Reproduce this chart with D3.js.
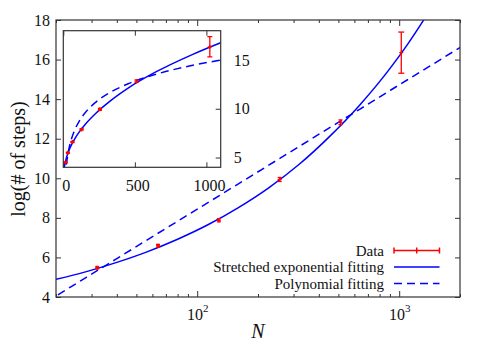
<!DOCTYPE html>
<html>
<head>
<meta charset="utf-8">
<script src="https://cdn.jsdelivr.net/npm/d3@7"></script>
<style>
    body { margin: 0; background: #fff; }
    svg { display: block; font-family: "Liberation Serif", "Times New Roman", serif; }
    svg text { font-family: "Liberation Serif", "Times New Roman", serif; }
</style>
</head>
<body>
<div id="chart"></div>
<script>
// Layout
const WIDTH = 491;
const HEIGHT = 343;
const MAIN = { left: 56, right: 460, top: 20, bottom: 297 };
const INSET = { left: 63.3, right: 220.7, top: 30.7, bottom: 167.3 };

const RED = "#ff0000";
const BLUE = "#0000ff";
const FRAME = "#333";

// Data
const dataN = [16, 32, 64, 128, 256, 512, 1024];
const dataY = [4.5, 5.48, 6.59, 7.88, 9.94, 12.83, 16.35];
const dataErr = [0.05, 0.06, 0.07, 0.08, 0.1, 0.12, 1.04];

// Fitted curves
const fitN = [5, 8, 10, 14, 20, 28, 40, 56, 80, 113, 160, 226, 320, 453, 640, 905, 1100, 1280, 1450, 2000];
const stretchedY = [3.80, 4.10, 4.26, 4.54, 4.89, 5.27, 5.75, 6.27, 6.92, 7.65, 8.52, 9.52, 10.71, 12.12, 13.72, 15.58, 16.77, 17.78, 18.65, 21.0];
const polyY = [0.27, 1.55, 2.16, 3.08, 4.05, 4.97, 5.94, 6.86, 7.83, 8.77, 9.72, 10.66, 11.61, 12.56, 13.50, 14.45, 14.98, 15.39, 15.73, 16.61];

// Ticks
const yTicks = [4, 6, 8, 10, 12, 14, 16, 18];
const xMajor = [100, 1000];
const xMajorExp = ["2", "3"];
const xMinor = [20, 30, 40, 50, 60, 70, 80, 90, 200, 300, 400, 500, 600, 700, 800, 900, 2000];
const insetXTicks = [0, 500, 1000];
const insetYTicks = [5, 10, 15];

// Legend
const legendLabels = ["Data", "Stretched exponential fitting", "Polynomial fitting"];

const svg = d3.select("#chart").append("svg")
    .attr("width", WIDTH)
    .attr("height", HEIGHT);

const defs = svg.append("defs");
defs.append("clipPath").attr("id", "clip-main")
    .append("rect")
    .attr("x", MAIN.left).attr("y", MAIN.top)
    .attr("width", MAIN.right - MAIN.left).attr("height", MAIN.bottom - MAIN.top);
defs.append("clipPath").attr("id", "clip-inset")
    .append("rect")
    .attr("x", INSET.left).attr("y", INSET.top)
    .attr("width", INSET.right - INSET.left).attr("height", INSET.bottom - INSET.top);

const points = dataN.map((n, i) => ({ n, y: dataY[i], err: dataErr[i] }));
const stretched = fitN.map((n, i) => ({ n, y: stretchedY[i] }));
const poly = fitN.map((n, i) => ({ n, y: polyY[i] }));

function styleAxis(g) {
    g.attr("font-family", null).attr("font-size", null);
    g.select(".domain").remove();
    g.selectAll(".tick line").attr("stroke", FRAME);
    g.selectAll(".tick text").attr("fill", "#111").style("font-size", "16px");
}

function drawErrorBars(g, xs, ys, data, capW) {
    const grp = g.append("g").attr("stroke", RED).attr("stroke-width", 1.3);
    data.forEach(d => {
        const cx = xs(d.n);
        const y0 = ys(d.y - d.err), y1 = ys(d.y + d.err), cy = ys(d.y);
        const w = d.err > 0.5 ? capW : 4;
        grp.append("line").attr("x1", cx).attr("x2", cx).attr("y1", y0).attr("y2", y1);
        grp.append("line").attr("x1", cx - w / 2).attr("x2", cx + w / 2).attr("y1", y0).attr("y2", y0);
        grp.append("line").attr("x1", cx - w / 2).attr("x2", cx + w / 2).attr("y1", y1).attr("y2", y1);
        // point symbol (+)
        grp.append("line").attr("x1", cx - 2).attr("x2", cx + 2).attr("y1", cy).attr("y2", cy);
        grp.append("line").attr("x1", cx).attr("x2", cx).attr("y1", cy - 2).attr("y2", cy + 2);
    });
}

// ---------- Main plot ----------
const x = d3.scaleLog().domain([20, 2000]).range([MAIN.left, MAIN.right]);
const y = d3.scaleLinear().domain([4, 18]).range([MAIN.bottom, MAIN.top]);

// y axes (left with labels, right mirror)
svg.append("g")
    .attr("transform", `translate(${MAIN.left},0)`)
    .call(d3.axisLeft(y).tickValues(yTicks).tickSize(-5).tickPadding(6))
    .call(styleAxis);
svg.append("g")
    .attr("transform", `translate(${MAIN.right},0)`)
    .call(d3.axisRight(y).tickValues(yTicks).tickSize(-5).tickFormat(""))
    .call(styleAxis);

// x axes, minor ticks
svg.append("g")
    .attr("transform", `translate(0,${MAIN.bottom})`)
    .call(d3.axisBottom(x).tickValues(xMinor).tickSize(-3).tickFormat(""))
    .call(styleAxis);
svg.append("g")
    .attr("transform", `translate(0,${MAIN.top})`)
    .call(d3.axisTop(x).tickValues(xMinor).tickSize(-3).tickFormat(""))
    .call(styleAxis);
svg.append("g")
    .attr("transform", `translate(0,${MAIN.top})`)
    .call(d3.axisTop(x).tickValues(xMajor).tickSize(-6).tickFormat(""))
    .call(styleAxis);

// x axis, major ticks with 10^k labels
const xMajorAxis = svg.append("g")
    .attr("transform", `translate(0,${MAIN.bottom})`)
    .call(d3.axisBottom(x).tickValues(xMajor).tickSize(-6).tickFormat(""))
    .call(styleAxis);
xMajorAxis.selectAll(".tick text")
    .attr("y", 23)
    .attr("dy", null)
    .each(function (d, i) {
        const t = d3.select(this);
        t.append("tspan").text("10");
        t.append("tspan").text(xMajorExp[i])
            .attr("dy", -8)
            .style("font-size", "11px");
    });

// curves
const lineMain = d3.line()
    .x(d => x(d.n))
    .y(d => y(d.y))
    .curve(d3.curveMonotoneX);

const mainPlot = svg.append("g").attr("clip-path", "url(#clip-main)");
mainPlot.append("path")
    .datum(stretched.filter(d => d.n >= 14))
    .attr("fill", "none")
    .attr("stroke", BLUE)
    .attr("stroke-width", 1.5)
    .attr("d", lineMain);
mainPlot.append("path")
    .datum(poly.filter(d => d.n >= 14))
    .attr("fill", "none")
    .attr("stroke", BLUE)
    .attr("stroke-width", 1.5)
    .attr("stroke-dasharray", "8,5")
    .attr("d", lineMain);
drawErrorBars(mainPlot, x, y, points, 6);

// frame
svg.append("rect")
    .attr("x", MAIN.left).attr("y", MAIN.top)
    .attr("width", MAIN.right - MAIN.left).attr("height", MAIN.bottom - MAIN.top)
    .attr("fill", "none")
    .attr("stroke", FRAME)
    .attr("stroke-width", 1.2);

// axis titles
svg.append("text")
    .attr("transform", `translate(18,159) rotate(-90)`)
    .attr("text-anchor", "middle")
    .attr("dominant-baseline", "central")
    .style("font-size", "20px")
    .attr("fill", "#111")
    .text("log(# of steps)");
svg.append("text")
    .attr("x", (MAIN.left + MAIN.right) / 2)
    .attr("y", 338)
    .attr("text-anchor", "middle")
    .style("font-size", "20px")
    .style("font-style", "italic")
    .attr("fill", "#111")
    .text("N");

// legend
const legend = svg.append("g");
const legendY = [250.5, 267, 283.5];
legendLabels.forEach((label, i) => {
    legend.append("text")
        .attr("x", 384)
        .attr("y", legendY[i])
        .attr("dy", "0.35em")
        .attr("text-anchor", "end")
        .style("font-size", "15px")
        .attr("fill", "#111")
        .text(label);
});
const lg0 = legend.append("g").attr("stroke", RED).attr("stroke-width", 1.5);
lg0.append("line").attr("x1", 394).attr("x2", 439.5).attr("y1", legendY[0]).attr("y2", legendY[0]);
[394, 416.7, 439.5].forEach(cx => {
    lg0.append("line").attr("x1", cx).attr("x2", cx).attr("y1", legendY[0] - 3).attr("y2", legendY[0] + 3);
});
legend.append("line")
    .attr("x1", 394).attr("x2", 439.5).attr("y1", legendY[1]).attr("y2", legendY[1])
    .attr("stroke", BLUE).attr("stroke-width", 1.5);
legend.append("line")
    .attr("x1", 394).attr("x2", 439.5).attr("y1", legendY[2]).attr("y2", legendY[2])
    .attr("stroke", BLUE).attr("stroke-width", 1.5)
    .attr("stroke-dasharray", "8,5");

// ---------- Inset ----------
const xi = d3.scaleLinear().domain([0, 1100]).range([INSET.left, INSET.right]);
const yi = d3.scaleLinear().domain([4, 18]).range([INSET.bottom, INSET.top]);

svg.append("rect")
    .attr("x", INSET.left).attr("y", INSET.top)
    .attr("width", INSET.right - INSET.left).attr("height", INSET.bottom - INSET.top)
    .attr("fill", "#fff");

svg.append("g")
    .attr("transform", `translate(0,${INSET.bottom})`)
    .call(d3.axisBottom(xi).tickValues(insetXTicks).tickSize(-5).tickPadding(12).tickFormat(d3.format("d")))
    .call(styleAxis)
    .call(g => g.selectAll(".tick text").attr("dx", 2.5));
svg.append("g")
    .attr("transform", `translate(0,${INSET.top})`)
    .call(d3.axisTop(xi).tickValues(insetXTicks).tickSize(-5).tickFormat(""))
    .call(styleAxis);
svg.append("g")
    .attr("transform", `translate(${INSET.right},0)`)
    .call(d3.axisRight(yi).tickValues(insetYTicks).tickSize(-5).tickPadding(13))
    .call(styleAxis);

const lineInset = d3.line()
    .x(d => xi(d.n))
    .y(d => yi(d.y))
    .curve(d3.curveMonotoneX);

const insetPlot = svg.append("g").attr("clip-path", "url(#clip-inset)");
insetPlot.append("path")
    .datum(stretched)
    .attr("fill", "none")
    .attr("stroke", BLUE)
    .attr("stroke-width", 1.5)
    .attr("d", lineInset);
insetPlot.append("path")
    .datum(poly)
    .attr("fill", "none")
    .attr("stroke", BLUE)
    .attr("stroke-width", 1.5)
    .attr("stroke-dasharray", "8,5")
    .attr("d", lineInset);
drawErrorBars(insetPlot, xi, yi, points, 5);

svg.append("rect")
    .attr("x", INSET.left).attr("y", INSET.top)
    .attr("width", INSET.right - INSET.left).attr("height", INSET.bottom - INSET.top)
    .attr("fill", "none")
    .attr("stroke", FRAME)
    .attr("stroke-width", 1.2);
</script>
</body>
</html>
